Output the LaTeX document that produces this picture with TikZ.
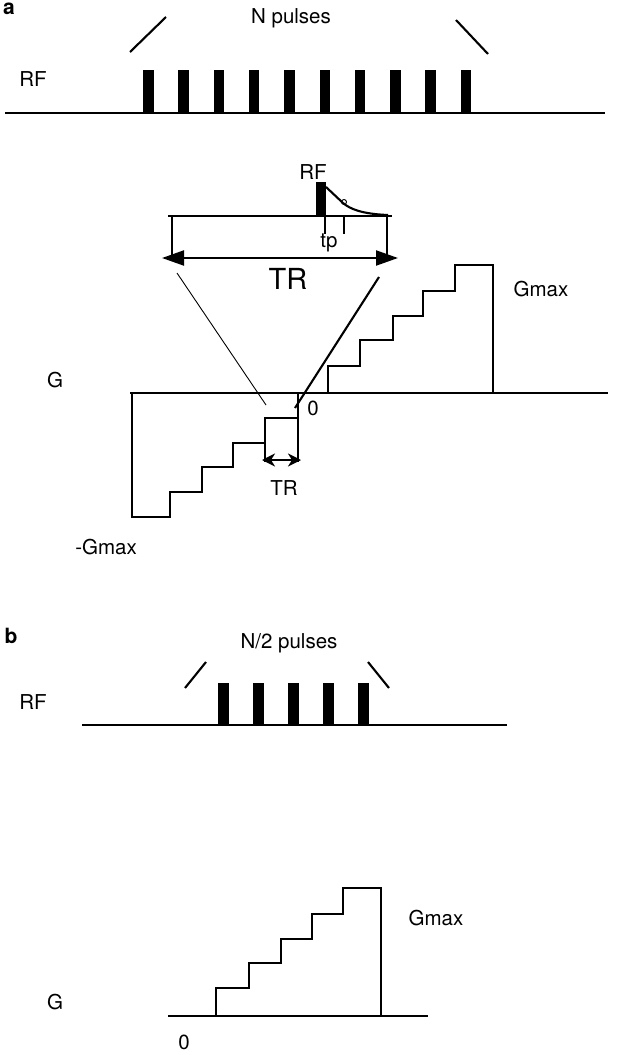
\documentclass[tikz,border=0pt]{standalone}
\usepackage{fontspec}
\setmainfont{TeX Gyre Heros}
\usetikzlibrary{arrows.meta, calc}

\begin{document}
\begin{tikzpicture}[
  x=1pt, y=-1pt,
  wave/.style={line width=2.1pt},
  thinline/.style={line width=0.9pt},
  pulse/.style={fill=black},
  lbl/.style={inner sep=0pt, font=\fontsize{20.5}{24}\selectfont},
  biglbl/.style={inner sep=0pt, font=\fontsize{29}{34}\selectfont},
  panel/.style={inner sep=0pt, font=\fontsize{21}{25}\selectfont\bfseries},
  bigarrow/.style={wave, {Triangle[length=22pt, width=15pt]}-{Triangle[length=22pt, width=15pt]}},
  smallarrow/.style={wave, {Stealth[length=13pt, width=13pt, inset=4pt]}-{Stealth[length=13pt, width=13pt, inset=4pt]}}
]
\useasboundingbox (0,0) rectangle (638,1055);

% ---- panel a : RF train
\node[panel] (pa) at (9,9) {a};
\node[lbl] (npulses) at (291,18) {N pulses};
\node[lbl] (rfa) at (33,79) {RF};
\draw[wave] (130,52) -- (166,17);
\draw[wave] (456,20) -- (488,54);
\draw[wave] (5,113) -- (605,113);
\foreach \i in {0,...,9}
  \fill[pulse] (143+35.3*\i,70) rectangle ++(10.5,43);

% ---- panel a : inset (one TR)
\node[lbl] (rfin) at (313,172) {RF};
\draw[wave] (168,216) -- (392,216);
\fill[pulse] (316,182) rectangle (326,216);
\draw[wave] (326,187) -- (343,203) .. controls (350,209) and (362,214) .. (388,215);
\draw[thinline] (344,202) circle (2.5);
\draw[wave] (325,216) -- (325,234);
\draw[wave] (344,216) -- (344,234);
\node[lbl] (tp) at (329,243) {tp};
\coordinate (inl) at (172,216);
\coordinate (inr) at (387,216);
\coordinate (arl) at (162,258);
\coordinate (arr) at (398,258);
\draw[wave] (inl) -- (inl |- arl);
\draw[wave] (inr) -- (inr |- arr);
\draw[bigarrow] (arl) -- (arr);
\node[biglbl] (trbig) at (288,279) {TR};

% ---- panel a : gradient
\node[lbl] (ga) at (55,380) {G};
\draw[wave] (130,393) -- (608,393);
\draw[wave] (328,393) -- (328,366) -- (360,366) -- (360,340) -- (393,340)
  -- (393,316) -- (423,316) -- (423,291) -- (455,291) -- (455,265)
  -- (493,265) -- (493,393);
\node[lbl] (gmaxa) at (541,289) {Gmax};
\draw[wave] (132,393) -- (132,517) -- (170,517) -- (170,492) -- (202,492)
  -- (202,467) -- (233,467) -- (233,443) -- (265,443) -- (265,418) -- (298,418);
\draw[wave] (265,418) -- (265,462);
\draw[wave] (298,393) -- (298,462);
\coordinate (trl) at (262,460);
\coordinate (trr) at (301,460);
\draw[smallarrow] (trl) -- (trr);
\node[lbl] (trsmall) at (284,488) {TR};
\node[lbl] (mgmax) at (106,547) {-Gmax};
\node[lbl] (zeroa) at (313,408) {0};
\coordinate (zoomthin) at (266,405);
\coordinate (zoomthick) at (295,408);
\draw[thinline] (177,273) -- (zoomthin);
\draw[wave] (379,277) -- (zoomthick);

% ---- panel b : RF train
\node[panel] (pb) at (11,636) {b};
\node[lbl] (nhalf) at (289,643) {N/2 pulses};
\node[lbl] (rfb) at (33,702) {RF};
\draw[wave] (185,688) -- (206,662);
\draw[wave] (368,662) -- (389,688);
\draw[wave] (82,725) -- (507,725);
\foreach \i in {0,...,4}
  \fill[pulse] (218+35*\i,683) rectangle ++(10.5,42);

% ---- panel b : gradient
\node[lbl] (gb) at (55,1002) {G};
\draw[wave] (168,1016) -- (428,1016);
\draw[wave] (216,1016) -- (216,988) -- (249,988) -- (249,963) -- (281,963)
  -- (281,939) -- (312,939) -- (312,914) -- (343,914) -- (343,888)
  -- (381,888) -- (381,1016);
\node[lbl] (gmaxb) at (436,918) {Gmax};
\node[lbl] (zerob) at (184,1042) {0};
\end{tikzpicture}
\end{document}
